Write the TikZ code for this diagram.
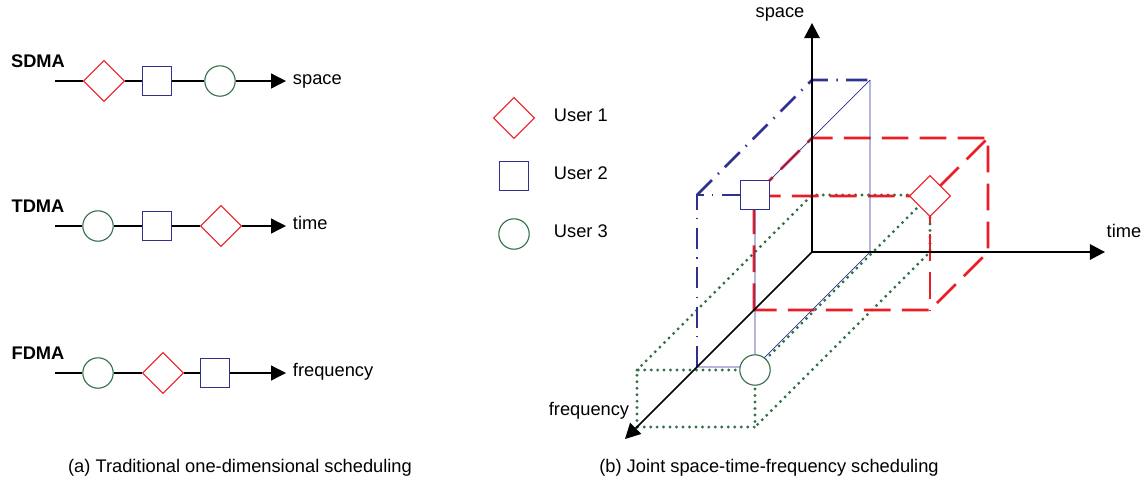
\documentclass[tikz,border=0pt]{standalone}
\usepackage{fontspec}
\setmainfont{Liberation Sans}
\usepackage{tikz}
\usetikzlibrary{shapes.geometric, arrows.meta}

\definecolor{uone}{RGB}{237,28,36}
\definecolor{utwo}{RGB}{46,49,146}
\definecolor{uthree}{RGB}{52,112,74}

\begin{document}
\begin{tikzpicture}[x=0.025cm, y=-0.025cm, font=\fontsize{13}{15}\selectfont,
		user1/.style={diamond, draw=uone, fill=white, line width=0.8pt, inner sep=0pt, minimum size=1.03cm},
		user2/.style={rectangle, draw=utwo, fill=white, line width=0.8pt, inner sep=0pt, minimum size=0.72cm},
		user3/.style={circle, draw=uthree, fill=white, line width=0.8pt, inner sep=0pt, minimum size=0.76cm},
		rowname/.style={font=\fontsize{13}{15}\selectfont\bfseries},
		rowline/.style={line width=0.9pt},
		arrowline/.style={line width=0.9pt, -{Triangle[length=3.7mm, width=3.7mm]}},
		axis/.style={line width=1.1pt, -{Triangle[length=3.8mm, width=3.9mm]}},
		rdash/.style={draw=uone, line width=1.8pt, dash pattern=on 19pt off 8pt},
		bdashdot/.style={draw=utwo, line width=1.8pt, dash pattern=on 15pt off 6pt on 1pt off 6pt},
		bthin/.style={draw=utwo, line width=0.5pt},
		gdot/.style={draw=uthree, line width=2.3pt, line cap=round, dash pattern=on 0pt off 4.6pt}]
	\useasboundingbox (0,0) rectangle (1144,489);
	
	% SDMA: users side by side in space
	\node[rowname] (sdma) at (38,61) {SDMA};
	\coordinate (sdmaS) at (55,81);
	\node[user1] (sdma1) at (104,81) {};
	\node[user2] (sdma2) at (157,81) {};
	\node[user3] (sdma3) at (220,81) {};
	\coordinate (sdmaE) at (286,81);
	\draw[rowline] (sdmaS) -- (sdma1) -- (sdma2) -- (sdma3);
	\draw[arrowline] (sdma3) -- (sdmaE);
	\node[anchor=mid west] (sdmaT) at (288,81) {space};
	
	% TDMA: users one after another in time
	\node[rowname] (tdma) at (38,206) {TDMA};
	\coordinate (tdmaS) at (55,226);
	\node[user3] (tdma3) at (98,226) {};
	\node[user2] (tdma2) at (157,226) {};
	\node[user1] (tdma1) at (221,226) {};
	\coordinate (tdmaE) at (286,226);
	\draw[rowline] (tdmaS) -- (tdma3) -- (tdma2) -- (tdma1);
	\draw[arrowline] (tdma1) -- (tdmaE);
	\node[anchor=mid west] (tdmaT) at (288,226) {time};
	
	% FDMA: users on separate frequencies
	\node[rowname] (fdma) at (38,353) {FDMA};
	\coordinate (fdmaS) at (55,373);
	\node[user3] (fdma3) at (98,373) {};
	\node[user1] (fdma1) at (163,373) {};
	\node[user2] (fdma2) at (215,373) {};
	\coordinate (fdmaE) at (286,373);
	\draw[rowline] (fdmaS) -- (fdma3) -- (fdma1) -- (fdma2);
	\draw[arrowline] (fdma2) -- (fdmaE);
	\node[anchor=mid west] (fdmaT) at (288,373) {frequency};
	
	% Legend
	\node[user1] (key1) at (514,118) {};
	\node[user2] (key2) at (514,176) {};
	\node[user3] (key3) at (514,234) {};
	\node[anchor=mid west] (key1T) at (549,118) {User 1};
	\node[anchor=mid west] (key2T) at (549,176) {User 2};
	\node[anchor=mid west] (key3T) at (549,234) {User 3};
	
	% Joint space-time-frequency grid: (time, space, frequency)
	\begin{scope}[shift={(812,252)}, x={(0.025cm,0cm)}, y={(0cm,0.025cm)}, z={(-0.025cm,-0.025cm)}]
		\coordinate (O) at (0,0,0);
		\coordinate (tEnd) at (293,0,0);
		\coordinate (sEnd) at (0,229,0);
		\coordinate (fEnd) at (0,0,187);
		
		% User 3 block (dotted)
		\draw[gdot] (0,0,175) -- (0,57,175) -- (118,57,175) -- (118,0,175) -- cycle;
		\draw[gdot] (0,57,175) -- (0,57,0) -- (118,57,0) -- (118,0,0) -- (118,0,175);
		\draw[gdot] (118,57,0) -- (118,57,175);
		
		% User 1 block (dashed)
		\draw[rdash] (0,0,58) -- (0,114,58) -- (0,114,0) -- (176,114,0) -- (176,0,0) -- (176,0,58) -- cycle;
		\draw[rdash] (0,114,58) -- (176,114,58) -- (176,114,0);
		\draw[rdash] (176,114,58) -- (176,0,58);
		
		% User 2 block (dash-dot and thin)
		\draw[bdashdot] (0,0,115) -- (0,172,115) -- (58,172,115);
		\draw[bdashdot] (0,172,115) -- (0,172,0) -- (58,172,0);
		\draw[bthin] (58,172,0) -- (58,0,0) -- (58,0,115) -- (0,0,115);
		\draw[bthin] (58,172,0) -- (58,172,115) -- (58,0,115);
		
		% Axes
		\draw[axis] (O) -- (tEnd);
		\draw[axis] (O) -- (sEnd);
		\draw[axis] (O) -- (fEnd);
		
		% Users
		\node[user1] (u1) at (176,114,58) {};
		\node[user2] (u2) at (58,172,115) {};
		\node[user3] (u3) at (118,57,175) {};
	\end{scope}
	
	% Axis labels
	\node (spaceT) at (780,14) {space};
	\node (timeT) at (1124,231) {time};
	\node (freqT) at (589,411) {frequency};
	
	% Captions
	\node (capA) at (240,468) {(a) Traditional one-dimensional scheduling};
	\node (capB) at (769,468) {(b) Joint space-time-frequency scheduling};
\end{tikzpicture}
\end{document}
